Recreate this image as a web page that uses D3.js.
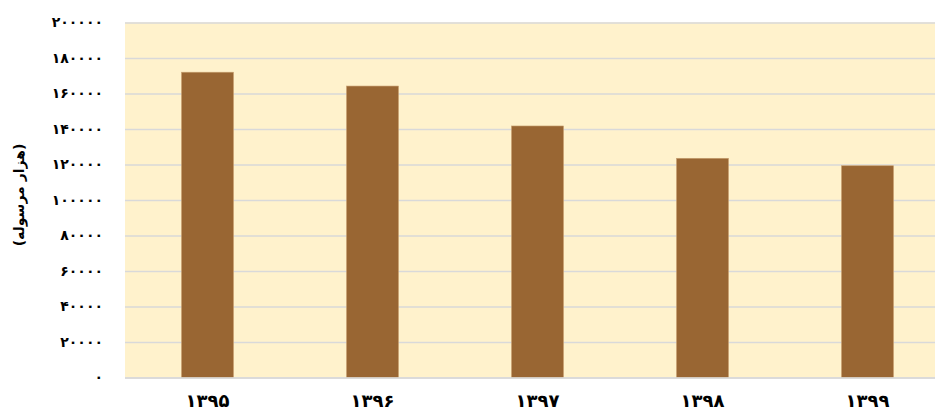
<!DOCTYPE html>
<html><head><meta charset="utf-8">
<script src="https://cdn.jsdelivr.net/npm/d3@7"></script>
<style>html,body{margin:0;padding:0;background:#fff;overflow:hidden}</style>
</head><body><svg id="c" width="935" height="414"></svg>
<script>
const categories = ["۱۳۹۵","۱۳۹۶","۱۳۹۷","۱۳۹۸","۱۳۹۹"];
const values = [172000, 164200, 141700, 123500, 119300];
const yTicks = [0,20000,40000,60000,80000,100000,120000,140000,160000,180000,200000];
const yTitle = "(هزار مرسوله)";

const fa = s => String(s).replace(/\d/g, d => "۰۱۲۳۴۵۶۷۸۹"[d]);
const svg = d3.select("#c");
const x = d3.scaleBand().domain(categories).range([125,950]).paddingInner(0.685).paddingOuter(0.3425);
const y = d3.scaleLinear().domain([0,200000]).range([377.5,22.5]);
const font = "'DejaVu Sans', sans-serif";

svg.append("rect").attr("x",125).attr("y",y(200000)).attr("width",825).attr("height",y(0)-y(200000)).attr("fill","#FFF2CC");

const yAxis = svg.append("g").attr("transform","translate(125,0)")
  .call(d3.axisLeft(y).tickValues(yTicks).tickSize(-825).tickPadding(22).tickFormat(fa));
yAxis.select(".domain").remove();
yAxis.selectAll(".tick line").attr("stroke","#D9D9D9").attr("stroke-width",1.5);
yAxis.selectAll(".tick text").attr("font-family",font).attr("font-weight","bold").attr("font-size",14).attr("fill","#000");

svg.append("g").selectAll("rect").data(values).join("rect")
  .attr("x",(d,i)=>x(categories[i])).attr("width",x.bandwidth())
  .attr("y",d=>y(d)).attr("height",d=>y(0)-y(d))
  .attr("fill","#996633").attr("stroke","#C8A070").attr("stroke-width",0.6);

svg.append("line").attr("x1",125).attr("x2",950).attr("y1",y(0)+0.5).attr("y2",y(0)+0.5).attr("stroke","#D9D9D9").attr("stroke-width",1.5);

const xAxis = svg.append("g").attr("transform",`translate(0,${y(0)})`)
  .call(d3.axisBottom(x).tickSize(0).tickPadding(17));
xAxis.select(".domain").remove();
xAxis.selectAll(".tick text").attr("font-family",font).attr("font-weight","bold").attr("font-size",18).attr("fill","#000");

svg.append("text").attr("transform","translate(24,195) rotate(-90)")
  .attr("text-anchor","middle").attr("font-family",font).attr("font-weight","bold").attr("font-size",14)
  .attr("direction","rtl").text(yTitle);
</script></body></html>
